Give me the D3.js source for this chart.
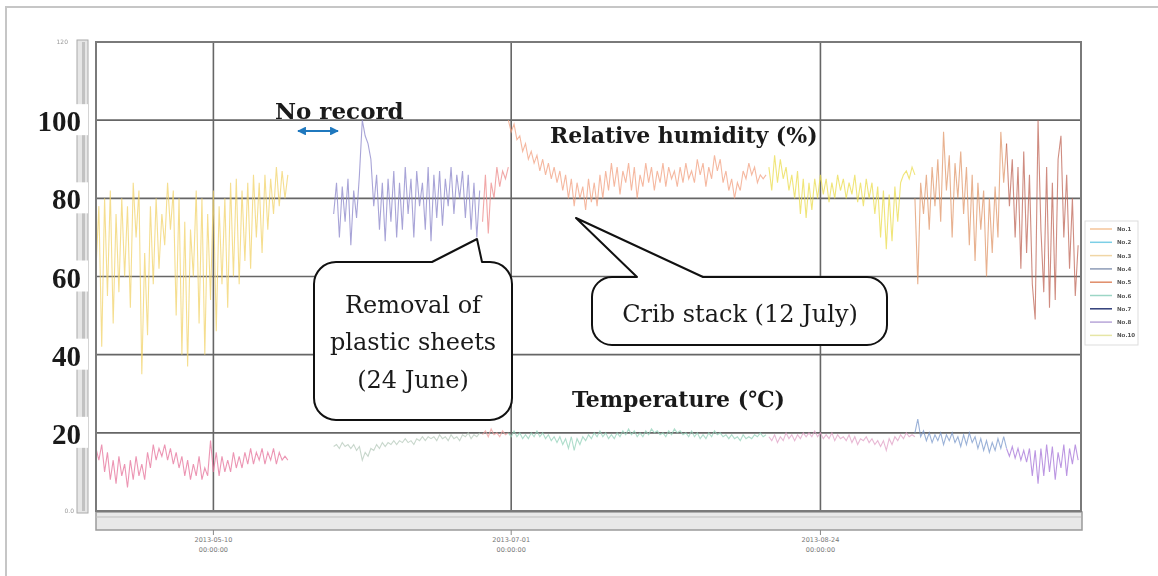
<!DOCTYPE html>
<html>
<head>
<meta charset="utf-8">
<script src="https://cdn.jsdelivr.net/npm/d3@7/dist/d3.min.js"></script>
<style>
  body { margin: 0; background: #fff; }
  svg { display: block; }
</style>
</head>
<body>
<div id="chart"></div>
<script>
// ---- data (one value every 12 h) ----
const timeDomain = ['2013-04-19T12:00', '2013-10-08T12:00'];
const tickDates = ['2013-05-10T00:00', '2013-07-01T00:00', '2013-08-24T00:00'];
const tickLabels = [['2013-05-10', '00:00:00'], ['2013-07-01', '00:00:00'], ['2013-08-24', '00:00:00']];
const yTicks = [20, 40, 60, 80, 100];

// start of each logger segment
const segStarts = ['2013-04-19T12:00', '2013-05-31T00:00', '2013-06-26T00:00', '2013-06-30T12:00',
                   '2013-08-15T00:00', '2013-09-09T12:00', '2013-09-25T12:00'];

// relative humidity (%)
const rhA = [62,78,42,80,55,82,48,76,56,80, 60,78,52,84,70,82,35,66,45,78, 58,80,62,76,68,84,72,82,50,80,
             40,74,37,72,60,82,48,80,40,76, 54,82,46,78,58,80,52,84,60,85, 58,82,64,84,62,86,70,84,66,86,
             72,85,76,88,78,87,80,86];
const rhB = [76,84,70,83,74,85,68,82,75,86, 100,96,94,90,78,86,72,84,69,85, 74,87,70,84,72,88,76,85,70,87,
             78,84,72,88,69,86,75,87,73,85, 78,88,76,86,80,87,75,86,72,84, 70,82];
const rhB2 = [74,86,71,84,80,88,83,87,85,88];
const rhC = [100,97,99,95,96,92,94,90,92,89, 91,87,90,86,89,85,88,84,87,82, 86,80,85,78,84,80,83,77,85,79,
             84,78,86,80,87,82,89,83,88,81, 87,84,89,82,88,80,86,83,89,84, 88,82,87,84,89,83,88,85,87,83,
             88,84,89,85,87,84,90,86,89,83, 88,85,91,87,90,84,87,82,85,80, 84,82,87,85,89,86,88,84,86,85, 86];
const rhD = [88,82,91,84,90,85,88,82,86,80, 87,76,85,75,84,77,85,80,86,81, 85,79,84,80,86,82,85,80,84,81,
             86,79,84,78,85,80,84,76,83,70, 82,67,81,69,83,74,84,86,87,85, 88,86];
const rhE1 = [80,58,84,76,86,72,88,78,90,74, 97,82,91,70,89,80,92,76,88,68, 86,64,84,72,82,60,80,66,83,70, 97,84,94];
const rhE2 = [94,78,90,70,88,62,92,66,86,58, 49,100,72,56,88,52,84,54,90,96, 70,86,62,80,55,68];

// temperature (C)
const tA = [16,13,17,10,15,8,13,7,14,9, 12,6,13,8,14,9,12,8,15,11, 17,13,16,14,17,13,16,12,15,11,
            14,9,13,8,12,9,14,8,11,9, 18,10,15,9,14,10,13,10,15,11, 14,11,15,12,16,12,15,13,16,12,
            15,13,16,12,15,13,14,13];
const tB = [16.5,17,16,17.5,16.5,17,16,17,15.5,16.5, 13,15,14,16,15.5,17,16,17.5,16.5,17.5,
            17,18,17,18,17.5,18.5,17.5,18,17,18.5, 18,19,18,19,18.5,19,18,19.5,18.5,19,
            18,19.5,18.5,19,18,19.5,19,20,18.5,19.5, 19,20];
const tB2 = [19.5,20.5,19,21,19.5,20,19,20.5,19.5,20];
const tC = [20,19,20.5,19,20,18.5,19.5,18.5,20,19, 20.5,19,20,18.5,19.5,18,19,17.5,19,17,
            18.5,16,19,15.5,18.5,17,19,18,19.5,18.5, 20,19,20.5,19,20,18.5,19.5,18.5,20,19,
            20.5,19.5,21,19.5,20.5,19,20,19,20.5,19.5, 21,20,20.5,19.5,20,19,20.5,19.5,21,20,
            20.5,19.5,20,19,20.5,19,20,18.5,19.5,18.5, 20,19,20.5,19.5,20,19,19.5,18.5,19.5,18.5,
            19,18,19.5,18.5,19,18.5,19.5,19,20,19, 19.5];
const tD = [19,18,19.5,17.5,19,18,20,18.5,19.5,18, 19.5,18.5,20,19,20,19,20.5,19,20,18.5,
            19.5,18.5,20,18,19.5,18.5,19,18,19.5,17.5, 19,17,18.5,18,19,17.5,18.5,17,18,16.5,
            18,15.5,18.5,17,19,18,19.5,18.5,20,19, 19.5,19];
const tE1 = [20,23.5,19,20.5,18,20,17.5,19.5,18,20, 17,19.5,18,20,17.5,19,16.5,19.5,17,20,
             17.5,19,16,18.5,15.5,18,15,17.5,15.5,18.5, 16,19,16];
const tE2 = [16,14,16.5,13.5,16,13,15.5,12.5,16,9, 15.5,7,16,9,17,10,16.5,8,15,11, 17,9,16,12,17,13];

const rhSeries = [rhA, rhB, rhB2, rhC, rhD, rhE1, rhE2];
const tSeries = [tA, tB, tB2, tC, tD, tE1, tE2];
const rhColors = ['#f2d36a', '#8b86c9', '#ec8a8a', '#f2a080', '#ebdc4e', '#e0976a', '#bf6555'];
const tColors = ['#e6729a', '#b5c9bb', '#f0a0a0', '#93d2b9', '#e0a0c6', '#7a98cb', '#a574d8'];

const legendNames = ['No.1', 'No.2', 'No.3', 'No.4', 'No.5', 'No.6', 'No.7', 'No.8', 'No.10'];
const legendColors = ['#f5c49a', '#7ccfe6', '#f0d6a6', '#8d9bb6', '#e08c68', '#9cd6c6', '#2e3c78', '#b8a6d8', '#e6e6a6'];

// ---- layout ----
let svgWidth = 1158;
let svgHeight = 576;
let plot = {left: 96, right: 1081, top: 42, bottom: 511};

let svg = d3.select('#chart')
            .append('svg')
            .attr('width', svgWidth)
            .attr('height', svgHeight);

const parse = d3.isoParse;
const halfDay = 12 * 3600 * 1000;

let x = d3.scaleTime()
          .domain(timeDomain.map(parse))
          .range([plot.left, plot.right]);
let y = d3.scaleLinear()
          .domain([0, 120])
          .range([plot.bottom, plot.top]);

// slight softening, the source is a blurry screen grab
let defs = svg.append('defs');
defs.append('filter')
    .attr('id', 'soft')
    .append('feGaussianBlur')
    .attr('stdDeviation', 0.45);

// outer page frame
svg.append('path')
   .attr('d', `M6,${svgHeight} L6,7 L${svgWidth},7`)
   .attr('fill', 'none')
   .attr('stroke', '#c6c6c6')
   .attr('stroke-width', 2);

// left scroll strip
svg.append('rect')
   .attr('x', 77).attr('y', plot.top - 2)
   .attr('width', 11).attr('height', plot.bottom - plot.top + 4)
   .attr('fill', '#e6e6e6').attr('stroke', '#aaa').attr('stroke-width', 1);
svg.append('line')
   .attr('x1', 83.5).attr('x2', 83.5)
   .attr('y1', plot.top).attr('y2', plot.bottom)
   .attr('stroke', '#c2c2c2').attr('stroke-width', 3);

// bottom scroll strip
svg.append('rect')
   .attr('x', plot.left).attr('y', plot.bottom + 1)
   .attr('width', plot.right - plot.left + 1).attr('height', 18)
   .attr('fill', '#e8e8e8').attr('stroke', '#9a9a9a').attr('stroke-width', 1.5);
svg.append('line')
   .attr('x1', plot.left).attr('x2', plot.right)
   .attr('y1', plot.bottom + 6).attr('y2', plot.bottom + 6)
   .attr('stroke', '#bdbdbd').attr('stroke-width', 1);

// grid
let grid = svg.append('g');
grid.selectAll('.hgrid')
    .data(yTicks)
    .enter()
    .append('line')
    .attr('x1', plot.left).attr('x2', plot.right)
    .attr('y1', d => y(d)).attr('y2', d => y(d))
    .attr('stroke', '#666').attr('stroke-width', 1.6);
grid.selectAll('.vgrid')
    .data(tickDates)
    .enter()
    .append('line')
    .attr('x1', d => x(parse(d))).attr('x2', d => x(parse(d)))
    .attr('y1', plot.top).attr('y2', plot.bottom)
    .attr('stroke', '#666').attr('stroke-width', 1.6);

// small ticks + tiny date labels under the strip
tickDates.forEach((d, i) => {
    let tx = x(parse(d));
    svg.append('line')
       .attr('x1', tx).attr('x2', tx)
       .attr('y1', plot.bottom + 19).attr('y2', plot.bottom + 24)
       .attr('stroke', '#888');
    tickLabels[i].forEach((s, k) => {
        svg.append('text')
           .attr('x', tx).attr('y', 542 + k * 10)
           .attr('text-anchor', 'middle')
           .attr('font-family', 'DejaVu Sans')
           .attr('font-size', 6.5)
           .attr('fill', '#777')
           .text(s);
    });
});

// data lines
let line = start => d3.line()
                      .x((d, i) => x(new Date(parse(start).getTime() + i * halfDay)))
                      .y(d => y(d));

let lines = svg.append('g').attr('filter', 'url(#soft)');
rhSeries.forEach((s, i) => {
    lines.append('path')
         .attr('d', line(segStarts[i])(s))
         .attr('fill', 'none')
         .attr('stroke', rhColors[i])
         .attr('stroke-width', 1.1)
         .attr('opacity', 0.75);
});
tSeries.forEach((s, i) => {
    lines.append('path')
         .attr('d', line(segStarts[i])(s))
         .attr('fill', 'none')
         .attr('stroke', tColors[i])
         .attr('stroke-width', 1.1)
         .attr('opacity', 0.75);
});

// plot frame
svg.append('rect')
   .attr('x', plot.left).attr('y', plot.top)
   .attr('width', plot.right - plot.left).attr('height', plot.bottom - plot.top)
   .attr('fill', 'none').attr('stroke', '#7a7a7a').attr('stroke-width', 2);

// tiny original axis labels
svg.append('text').attr('x', 68).attr('y', 44).attr('text-anchor', 'end')
   .attr('font-family', 'DejaVu Sans').attr('font-size', 6).attr('fill', '#999').text('120');
svg.append('text').attr('x', 74).attr('y', 513).attr('text-anchor', 'end')
   .attr('font-family', 'DejaVu Sans').attr('font-size', 6).attr('fill', '#999').text('0.0');

// big y labels on white boxes
let yLab = svg.append('g');
yTicks.forEach(v => {
    yLab.append('rect')
        .attr('x', 30).attr('y', y(v) - 16)
        .attr('width', 58).attr('height', 31)
        .attr('fill', '#fff');
    yLab.append('text')
        .attr('x', 81).attr('y', y(v) + 11)
        .attr('text-anchor', 'end')
        .attr('font-family', 'Liberation Serif')
        .attr('font-weight', 'bold')
        .attr('font-size', 29)
        .attr('fill', '#1a1a1a')
        .text(v);
});

// legend
let legend = svg.append('g');
legend.append('rect')
      .attr('x', 1085).attr('y', 221)
      .attr('width', 53).attr('height', 124)
      .attr('fill', '#fff').attr('stroke', '#ddd');
legendNames.forEach((n, i) => {
    let ly = 229 + i * 13.3;
    legend.append('line')
          .attr('x1', 1090).attr('x2', 1112)
          .attr('y1', ly).attr('y2', ly)
          .attr('stroke', legendColors[i]).attr('stroke-width', 1.5);
    legend.append('text')
          .attr('x', 1117).attr('y', ly + 2)
          .attr('font-family', 'DejaVu Sans')
          .attr('font-weight', 'bold')
          .attr('font-size', 5.5)
          .attr('fill', '#555')
          .text(n);
});

// annotation labels
const serif = 'DejaVu Serif';
let label = (tx, ty, s, size, weight, anchor) =>
    svg.append('text')
       .attr('x', tx).attr('y', ty)
       .attr('text-anchor', anchor || 'start')
       .attr('font-family', serif)
       .attr('font-weight', weight)
       .attr('font-size', size)
       .attr('fill', '#1a1a1a')
       .text(s);

label(275, 119, 'No record', 23, 'bold');
label(550, 143, 'Relative humidity (%)', 22, 'bold');
label(572, 407, 'Temperature (\u2103)', 22, 'bold');

// blue double arrow
['a1', 'a2'].forEach((id, k) => {
    defs.append('marker')
        .attr('id', id)
        .attr('viewBox', '0 0 10 10')
        .attr('refX', 9).attr('refY', 5)
        .attr('markerWidth', 4).attr('markerHeight', 4)
        .attr('orient', k ? 'auto' : 'auto-start-reverse')
        .append('path')
        .attr('d', 'M0,0 L10,5 L0,10 Z')
        .attr('fill', '#1f78be');
});
svg.append('line')
   .attr('x1', 298).attr('x2', 338)
   .attr('y1', 131).attr('y2', 131)
   .attr('stroke', '#1f78be').attr('stroke-width', 2.2)
   .attr('marker-start', 'url(#a1)')
   .attr('marker-end', 'url(#a2)');

// callouts
function callout(x0, y0, x1, y1, r, ta, tip, tb) {
    let p = d3.path();
    p.moveTo(x0 + r, y0);
    p.lineTo(ta, y0);
    p.lineTo(tip[0], tip[1]);
    p.lineTo(tb, y0);
    p.lineTo(x1 - r, y0);
    p.arcTo(x1, y0, x1, y0 + r, r);
    p.lineTo(x1, y1 - r);
    p.arcTo(x1, y1, x1 - r, y1, r);
    p.lineTo(x0 + r, y1);
    p.arcTo(x0, y1, x0, y1 - r, r);
    p.lineTo(x0, y0 + r);
    p.arcTo(x0, y0, x0 + r, y0, r);
    p.closePath();
    svg.append('path')
       .attr('d', p.toString())
       .attr('fill', '#fff')
       .attr('stroke', '#111')
       .attr('stroke-width', 2)
       .attr('stroke-linejoin', 'round');
}

callout(314, 262, 512, 420, 22, 432, [477, 239], 482);
label(413, 313, 'Removal of', 24, 'normal', 'middle');
label(413, 350, 'plastic sheets', 24, 'normal', 'middle');
label(413, 388, '(24 June)', 24, 'normal', 'middle');

callout(592, 277, 887, 345, 20, 637, [576, 218], 703);
label(740, 322, 'Crib stack (12 July)', 24, 'normal', 'middle');
</script>
</body>
</html>
